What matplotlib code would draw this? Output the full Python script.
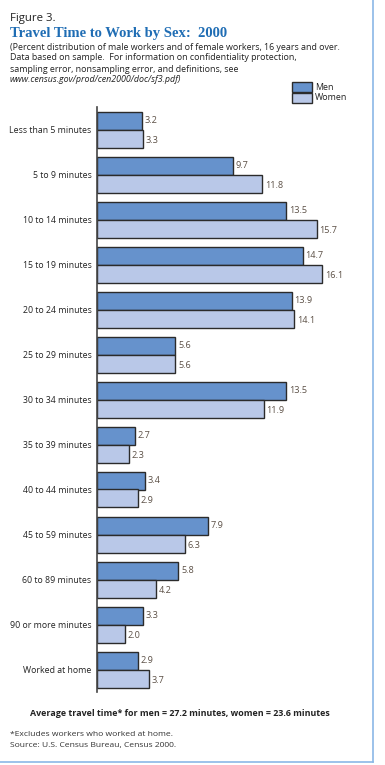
import numpy as np
from matplotlib import pyplot as plt
from matplotlib.patches import Rectangle
from matplotlib.lines import Line2D

categories = ['Less than 5 minutes', '5 to 9 minutes', '10 to 14 minutes',
              '15 to 19 minutes', '20 to 24 minutes', '25 to 29 minutes',
              '30 to 34 minutes', '35 to 39 minutes', '40 to 44 minutes',
              '45 to 59 minutes', '60 to 89 minutes', '90 or more minutes',
              'Worked at home']
men = [3.2, 9.7, 13.5, 14.7, 13.9, 5.6, 13.5, 2.7, 3.4, 7.9, 5.8, 3.3, 2.9]
women = [3.3, 11.8, 15.7, 16.1, 14.1, 5.6, 11.9, 2.3, 2.9, 6.3, 4.2, 2.0, 3.7]

men_color = '#6692cc'
women_color = '#b9c8e8'
edge = '#2b2b2b'
label_color = '#5c5046'

plt.rcParams['font.family'] = ['Open Sans', 'DejaVu Sans']

W, H = 385, 765
fig = plt.figure(figsize=(W / 100, H / 100), dpi=100)

# axes placed in pixel terms: left 97, top 107, bottom 692, 14 px per unit
left, top, bottom = 97, 107, 692
xmax = 19
ax = fig.add_axes([left / W, 1 - bottom / H, xmax * 14 / W, (bottom - top) / H])

y = np.arange(len(categories))
h = 0.4
ax.barh(y - h / 2, men, height=h, color=men_color, edgecolor=edge, linewidth=1.0)
ax.barh(y + h / 2, women, height=h, color=women_color, edgecolor=edge, linewidth=1.0)

for i in range(len(categories)):
    ax.text(men[i] + 0.2, y[i] - h / 2, '%.1f' % men[i], va='center', ha='left',
            fontsize=6.6, color=label_color)
    ax.text(women[i] + 0.2, y[i] + h / 2 + 0.04, '%.1f' % women[i], va='center', ha='left',
            fontsize=6.6, color=label_color)

ax.set_xlim(0, xmax)
ax.set_ylim(12.5, -0.5)
ax.set_yticks(y)
ax.set_yticklabels(categories, fontsize=6.3, color='#222222')
ax.tick_params(axis='y', length=0, pad=4)
ax.set_xticks([])
for s in ['top', 'right', 'bottom']:
    ax.spines[s].set_visible(False)
ax.spines['left'].set_color('#444444')
ax.spines['left'].set_linewidth(1.2)
ax.set_facecolor('none')

# header texts
fig.text(10 / W, 1 - 18 / H, 'Figure 3.', fontsize=8.2, color='#222222', va='center')
fig.text(10 / W, 1 - 33 / H, 'Travel Time to Work by Sex:  2000', fontsize=10.5,
         fontweight='bold', color='#1f6db4', va='center', family=['Liberation Serif'])
sub = ['(Percent distribution of male workers and of female workers, 16 years and over.',
       'Data based on sample.  For information on confidentiality protection,',
       'sampling error, nonsampling error, and definitions, see']
for k, line in enumerate(sub):
    fig.text(10 / W, 1 - (47 + 11 * k) / H, line, fontsize=6.4, color='#222222', va='center')
fig.text(10 / W, 1 - 80 / H, 'www.census.gov/prod/cen2000/doc/sf3.pdf)', fontsize=6.4,
         color='#222222', va='center', style='italic')

# legend
for j, (name, c) in enumerate([('Men', men_color), ('Women', women_color)]):
    yy = 87 + j * 11
    fig.patches.append(Rectangle((292 / W, 1 - (yy + 5) / H), 20 / W, 10 / H,
                                 transform=fig.transFigure, facecolor=c,
                                 edgecolor=edge, linewidth=1.0))
    fig.text(315 / W, 1 - yy / H, name, fontsize=6.4, color='#222222', va='center')

# footer
fig.text(180 / W, 1 - 713 / H, 'Average travel time* for men = 27.2 minutes, women = 23.6 minutes',
         fontsize=6.4, fontweight='bold', color='#222222', ha='center', va='center')
fig.text(10 / W, 1 - 735 / H, '*Excludes workers who worked at home.', fontsize=6.1,
         color='#333333', va='center')
fig.text(10 / W, 1 - 746 / H, 'Source: U.S. Census Bureau, Census 2000.', fontsize=6.1,
         color='#333333', va='center')

# frame lines at right and bottom
fig.lines.append(Line2D([373 / W, 373 / W], [1 - 762 / H, 1], transform=fig.transFigure,
                        color='#8bb8e6', linewidth=1.2))
fig.lines.append(Line2D([0, 373 / W], [1 - 762 / H, 1 - 762 / H], transform=fig.transFigure,
                        color='#8bb8e6', linewidth=1.2))

plt.savefig('out.png', dpi=100)
